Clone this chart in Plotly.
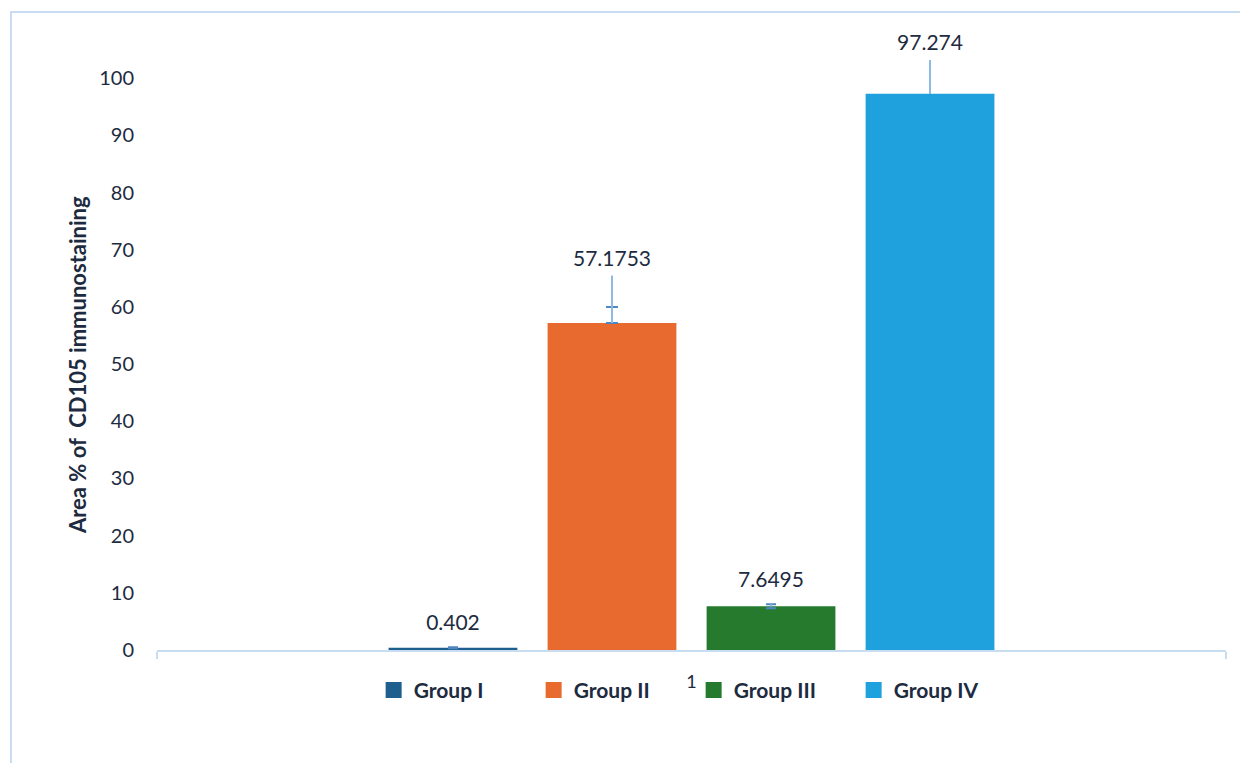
import plotly.graph_objects as go

categories = ["1"]
groups = ["Group I", "Group II", "Group III", "Group IV"]
values = [0.402, 57.1753, 7.6495, 97.274]
labels = ["0.402", "57.1753", "7.6495", "97.274"]
cap_err_plus = [0.1, 2.8, 0.35, 2.7]
cap_err_minus = [0.1, 0.0, 0.35, 0.0]
whisker_err = [0.0, 8.3, 0.35, 5.9]
colors = ["#1f5f8e", "#e86a2e", "#267a2e", "#1ea1dc"]

y_ticks = [0, 10, 20, 30, 40, 50, 60, 70, 80, 90, 100]

# styling
cap_width = [5, 6, 5, 0]
label_pad = [18, 6, 18, 6]
font_family = "Lato, 'Noto Sans', sans-serif"
text_color = "#1d2b40"
line_color = "#c8dcf2"
err_dark = "#4f86c0"
err_light = "#8dbbe6"

fig = go.Figure()

for i, g in enumerate(groups):
    fig.add_trace(go.Bar(
        x=categories, y=[values[i]], name=g,
        marker=dict(color=colors[i], line=dict(width=0)),
        offsetgroup=g, alignmentgroup="a", showlegend=False,
        error_y=dict(type="data", symmetric=False,
                     array=[cap_err_plus[i]], arrayminus=[cap_err_minus[i]],
                     color=err_dark, thickness=2, width=cap_width[i]),
    ))

for i, g in enumerate(groups):
    top = values[i] + whisker_err[i]
    fig.add_trace(go.Scatter(
        x=categories, y=[top], mode="markers+text", text=[labels[i]],
        textposition="top center",
        marker=dict(size=label_pad[i], opacity=0),
        textfont=dict(family=font_family, size=21, color=text_color),
        offsetgroup=g, alignmentgroup="a", showlegend=False,
        error_y=dict(type="data", symmetric=False, array=[0],
                     arrayminus=[whisker_err[i]], color=err_light,
                     thickness=2, width=0),
        cliponaxis=False, hoverinfo="skip",
    ))

# legend entries (square swatches)
for i, g in enumerate(groups):
    fig.add_trace(go.Scatter(
        x=[None], y=[None], mode="markers", name=g,
        marker=dict(symbol="square", size=16, color=colors[i]),
        showlegend=True, hoverinfo="skip",
    ))

fig.update_layout(
    width=1240, height=755,
    margin=dict(l=149, r=22, t=13, b=113),
    paper_bgcolor="white", plot_bgcolor="white",
    barmode="group", bargap=0.405, bargroupgap=0.19,
    scattermode="group", scattergap=0.405,
    font=dict(family=font_family, color=text_color),
    legend=dict(orientation="h", x=0.502, xanchor="center", y=-0.064,
                yanchor="middle", entrywidth=115, entrywidthmode="pixels",
                bgcolor="rgba(0,0,0,0)",
                font=dict(family=font_family, size=21, color=text_color,
                          weight="bold"),
                traceorder="normal"),
    xaxis=dict(type="category", showline=True, linecolor=line_color,
               linewidth=2, ticks="outside", tickson="boundaries",
               ticklen=7, tickcolor=line_color, tickwidth=2,
               tickfont=dict(size=18, color=text_color),
               ticklabelstandoff=14, showgrid=False),
    yaxis=dict(range=[0, 110], tickvals=y_ticks, showgrid=False,
               showline=False, zeroline=False, ticks="",
               tickfont=dict(size=20, color=text_color),
               ticklabelstandoff=22),
    annotations=[dict(text="Area % of  CD105 immunostaining", xref="paper",
                      yref="paper", x=-0.0748, y=0.453, textangle=-90,
                      xanchor="center", yanchor="middle",
                      showarrow=False,
                      font=dict(family=font_family, size=22,
                                color=text_color, weight="bold"))],
    shapes=[dict(type="rect", xref="paper", yref="paper",
                 x0=-0.1366, x1=1.06, y0=-0.3, y1=1.0143,
                 line=dict(color=line_color, width=2), layer="below")],
)

fig.write_html("out.html")
